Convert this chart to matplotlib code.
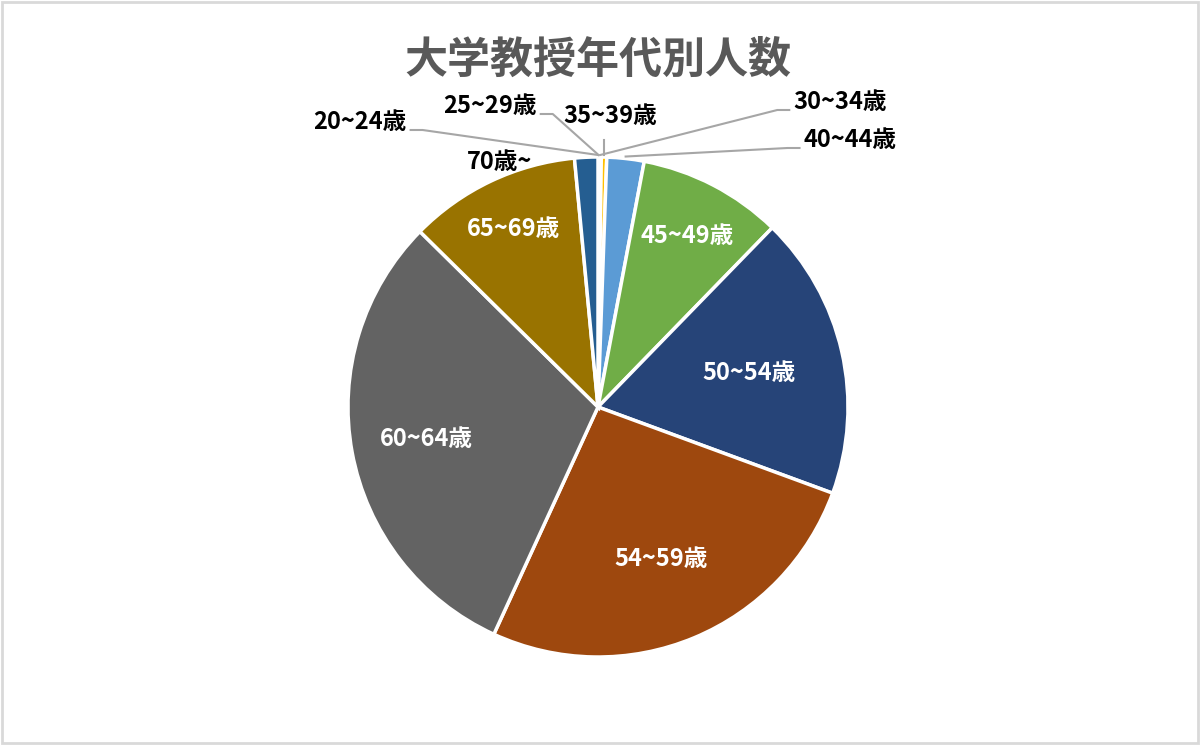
import matplotlib
matplotlib.use('Agg')
import matplotlib.pyplot as plt
import numpy as np
from matplotlib.patches import Rectangle

plt.rcParams['font.family'] = ['Noto Sans CJK JP', 'DejaVu Sans']

# 年代別の割合(%) - 図から読み取り
ages = ['20~24歳', '25~29歳', '30~34歳', '35~39歳', '40~44歳', '45~49歳',
        '50~54歳', '54~59歳', '60~64歳', '65~69歳', '70歳~']
shares = [0.01, 0.05, 0.15, 0.35, 2.4, 9.3, 18.3, 26.2, 30.5, 11.1, 1.5]
colors = ['#4472C4', '#ED7D31', '#A5A5A5', '#FFC000', '#5B9BD5', '#70AD47',
          '#264478', '#9E480E', '#636363', '#997300', '#255E91']

# ラベル配置 (画素座標, 上から)
outside = {'20~24歳': (360, 122), '25~29歳': (490, 106), '35~39歳': (610, 116),
           '30~34歳': (840, 102), '40~44歳': (850, 140), '70歳~': (500, 162)}
inside_r = {'45~49歳': 0.77, '50~54歳': 0.62, '54~59歳': 0.66,
            '60~64歳': 0.70, '65~69歳': 0.79}

W, H = 1200, 745
fig = plt.figure(figsize=(12, 7.45), dpi=100)
ax = fig.add_axes([0, 0, 1, 1])

cx, cy, R = 598, H - 407, 250
wedges, _ = ax.pie(shares, colors=colors, startangle=90, counterclock=False,
                   center=(cx, cy), radius=R, frame=True,
                   wedgeprops=dict(edgecolor='white', linewidth=2.5))
ax.set_xlim(0, W)
ax.set_ylim(0, H)
ax.set_aspect('equal')
ax.axis('off')

renderer = fig.canvas.get_renderer()
fs = 17
for w, name in zip(wedges, ages):
    mid = np.deg2rad((w.theta1 + w.theta2) / 2)
    if name in inside_r:
        r = inside_r[name] * R
        ax.text(cx + r * np.cos(mid), cy + r * np.sin(mid), name, color='white',
                fontsize=fs, fontweight='bold', ha='center', va='center')
        continue
    tx, ty = outside[name]
    ty = H - ty
    ex, ey = cx + R * np.cos(mid), cy + R * np.sin(mid)
    t = ax.text(tx, ty, name, color='black', fontsize=fs, fontweight='bold',
                ha='center', va='center')
    if name == '70歳~':
        continue
    if name == '35~39歳':
        ax.plot([ex, ex], [ty - 24, ey + 2], color='#A6A6A6', lw=1.5)
        continue
    half = t.get_window_extent(renderer).width / 2 + 4
    d = 1 if tx < cx else -1
    sx = tx + d * half
    ax.plot([sx, sx + d * 12, ex], [ty - 8, ty - 8, ey + 2], color='#A6A6A6', lw=1.5)

ax.text(598, H - 60, '大学教授年代別人数', color='#595959', fontsize=31,
        fontweight='bold', ha='center', va='center')

fig.patches.append(Rectangle((0.002, 0.003), 0.996, 0.994, transform=fig.transFigure,
                             fill=False, edgecolor='#D9D9D9', linewidth=2))

fig.savefig('out.png', dpi=100, facecolor='white')
